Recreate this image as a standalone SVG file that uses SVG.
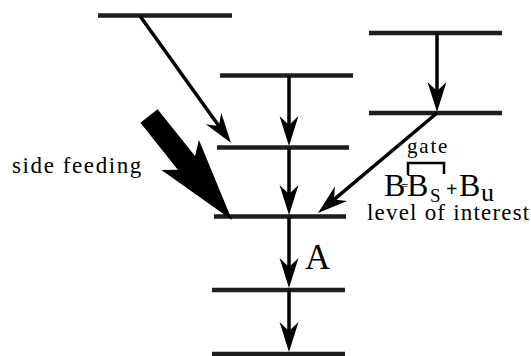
<svg xmlns="http://www.w3.org/2000/svg" width="531" height="356" viewBox="0 0 531 356">
<style>
.lvl{stroke:#1e1e1e;stroke-width:4.5;fill:none}
.arr{stroke:#000;stroke-width:3.5;fill:none;marker-end:url(#ah)}
text{font-family:'Liberation Serif','DejaVu Serif',serif;fill:#000}
</style>
<defs>
<marker id="ah" viewBox="-31 -10 32 20" refX="-15" refY="0" markerWidth="32" markerHeight="20" markerUnits="userSpaceOnUse" orient="auto">
<path d="M0,0 L-30,-9.5 L-21,0 L-30,9.5 Z" fill="#000"/>
</marker>
</defs>
<rect width="531" height="356" fill="#fff"/>
<g id="level-top-left"><line class="lvl" x1="98" y1="15.5" x2="232" y2="15.5"/></g>
<g id="level-2"><line class="lvl" x1="220" y1="75.5" x2="353" y2="75.5"/></g>
<g id="level-3"><line class="lvl" x1="217" y1="147.5" x2="349" y2="147.5"/></g>
<g id="level-right-top"><line class="lvl" x1="369" y1="33" x2="502" y2="33"/></g>
<g id="level-right-gate"><line class="lvl" x1="369" y1="113" x2="502" y2="113"/></g>
<g id="level-of-interest"><line class="lvl" x1="214" y1="216.5" x2="346" y2="216.5"/></g>
<g id="level-5"><line class="lvl" x1="212" y1="290" x2="345" y2="290"/></g>
<g id="level-6"><line class="lvl" x1="212" y1="354" x2="345" y2="354"/></g>
<g id="connectors">
<line class="arr" x1="140" y1="16" x2="222.3" y2="130.8"/>
<line class="arr" x1="289" y1="76" x2="289" y2="131"/>
<line class="arr" x1="289" y1="148" x2="289" y2="200"/>
<line class="arr" x1="437" y1="33" x2="437" y2="97"/>
<line class="arr" x1="437" y1="113" x2="329.5" y2="203.4"/>
<line class="arr" x1="289" y1="217" x2="289" y2="273"/>
<line class="arr" x1="289" y1="290" x2="289" y2="337"/>
<polygon id="side-feeding-arrow" transform="translate(149,116) rotate(51.4)" points="0,-11 60,-11 50,-24 133,0 50,24 60,11 0,11" fill="#000"/>
</g>
<g id="labels">
<text x="12" y="173" font-size="23" letter-spacing="1.6">side feeding</text>
<text x="407" y="153" font-size="21" letter-spacing="1.8">gate</text>
<path d="M408,175 V163 H444 V174" stroke="#000" stroke-width="2.5" fill="none"/>
<text x="384" y="196" font-size="32">B</text>
<text x="401" y="190" font-size="13">=</text>
<text x="407" y="196" font-size="32">B</text>
<text x="430" y="202" font-size="19">S</text>
<text x="446" y="196" font-size="20" font-weight="bold">+</text>
<text x="459" y="196" font-size="32">B</text>
<text x="481" y="201" font-size="26">u</text>
<text x="367" y="220" font-size="23" letter-spacing="1.2">level of interest</text>
<text x="305" y="269" font-size="35">A</text>
</g>
</svg>
